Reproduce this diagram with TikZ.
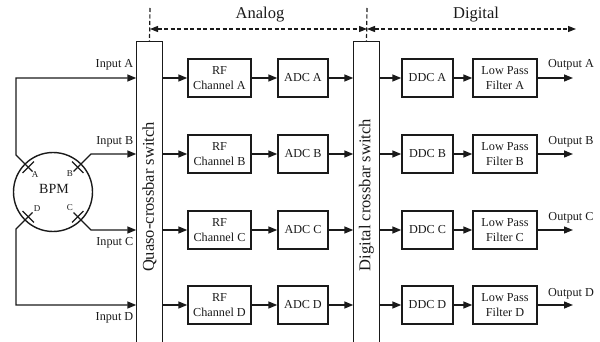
\documentclass[tikz,border=0pt]{standalone}
\usepackage{fontspec}
\setmainfont{Liberation Serif}
\usetikzlibrary{arrows.meta}
\definecolor{ink}{HTML}{1A1A1A}
\begin{document}
\begin{tikzpicture}[x=1pt,y=-1pt,line width=1.4pt,draw=ink,text=ink,
  small/.style={font=\fontsize{12.2}{14.5}\selectfont},
  big/.style={font=\fontsize{16.5}{19}\selectfont},
  tiny/.style={font=\fontsize{9}{10}\selectfont,inner sep=0pt},
  blk/.style={draw,small,minimum height=38pt,inner sep=0pt,align=center},
  rfbox/.style={blk,minimum width=63pt},
  adcbox/.style={blk,minimum width=50pt},
  ddcbox/.style={blk,minimum width=51pt},
  lpfbox/.style={blk,minimum width=64pt},
  lbl/.style={small,inner sep=1pt},
  arr/.style={-{Triangle[length=9pt,width=7pt]}},
  dsh/.style={line width=1.2pt,dash pattern=on 4pt off 2.5pt},
  dtip/.style={{Triangle[length=8pt,width=6pt]}-{Triangle[length=8pt,width=6pt]}}]
\useasboundingbox (0,0) rectangle (600,342);

% switches
\node[minimum width=25pt,minimum height=301pt,inner sep=0pt] (qs) at (149.5,192.5) {};
\node[minimum width=25pt,minimum height=301pt,inner sep=0pt] (ds) at (366.5,192.5) {};
\draw (qs.south west) -- (qs.north west) -- (qs.north east) -- (qs.south east);
\draw (ds.south west) -- (ds.north west) -- (ds.north east) -- (ds.south east);
\node[big,rotate=90,inner sep=0pt] (qsl) at (149.5,197) {Quaso-crossbar switch};
\node[big,rotate=90,inner sep=0pt] (dsl) at (366.5,195) {Digital crossbar switch};

% domain markers
\coordinate (dtL) at (150,8);
\coordinate (dtM) at (367,8);
\coordinate (dL) at (150,29);
\coordinate (dM) at (367,29);
\coordinate (dR) at (576,29);
\draw[dsh] (dtL) -- (qs.north);
\draw[dsh] (dtM) -- (ds.north);
\draw[dsh,dtip] (dL) -- (dM);
\draw[dsh,dtip] (dM) -- (dR);
\node[big] (analog) at (260,15) {Analog};
\node[big] (digital) at (476,15) {Digital};

% rows
\foreach \r/\y in {A/78,B/154,C/230,D/305}{
  \node[rfbox] (rf\r) at (219.5,\y) {RF\\Channel \r};
  \node[adcbox] (adc\r) at (303,\y) {ADC \r};
  \node[ddcbox] (ddc\r) at (427.5,\y) {DDC \r};
  \node[lpfbox] (lpf\r) at (505,\y) {Low Pass\\Filter \r};
  \coordinate (out\r) at (573,\y);
  \draw[arr] (qs.east |- rf\r.west) -- (rf\r.west);
  \draw[arr] (rf\r.east) -- (adc\r.west);
  \draw[arr] (adc\r.east) -- (ds.west |- adc\r.east);
  \draw[arr] (ds.east |- ddc\r.west) -- (ddc\r.west);
  \draw[arr] (ddc\r.east) -- (lpf\r.west);
  \draw[arr] (lpf\r.east) -- (out\r);
}
\node[lbl] (oA) at (571,65) {Output A};
\node[lbl] (oB) at (571,142) {Output B};
\node[lbl] (oC) at (571,218) {Output C};
\node[lbl] (oD) at (571,294) {Output D};

% BPM
\node[draw,circle,minimum size=79pt,inner sep=0pt] (bpm) at (53,192) {};
\node[font=\fontsize{14}{16}\selectfont,inner sep=0pt] (bpml) at (54,189) {BPM};
\node[tiny] (pa) at (35,175) {A};
\node[tiny] (pb) at (70,174) {B};
\node[tiny] (pd) at (37,209) {D};
\node[tiny] (pc) at (70,208) {C};
% electrodes
\draw (22.6,172.9) -- (33.9,161.6);
\draw (72.1,161.6) -- (83.4,172.9);
\draw (72.1,222.4) -- (83.4,211.1);
\draw (22.6,211.1) -- (33.9,222.4);
% wires
\coordinate (wA) at (32.5,171.5); \coordinate (kA) at (16,155);
\coordinate (wB) at (73.5,171.5); \coordinate (kB) at (91,154);
\coordinate (wC) at (73.5,212.5); \coordinate (kC) at (91,230);
\coordinate (wD) at (32.5,212.5); \coordinate (kD) at (16,229);
\draw[arr] (wA) -- (kA) -- (kA |- rfA.west) -- (qs.west |- rfA.west);
\draw[arr] (wB) -- (kB) -- (qs.west |- rfB.west);
\draw[arr] (wC) -- (kC) -- (qs.west |- rfC.west);
\draw[arr] (wD) -- (kD) -- (kD |- rfD.west) -- (qs.west |- rfD.west);
\node[lbl,anchor=east] (iA) at (135,65) {Input A};
\node[lbl,anchor=east] (iB) at (135,142) {Input B};
\node[lbl,anchor=east] (iC) at (135,243) {Input C};
\node[lbl,anchor=east] (iD) at (135,318) {Input D};
\end{tikzpicture}
\end{document}
